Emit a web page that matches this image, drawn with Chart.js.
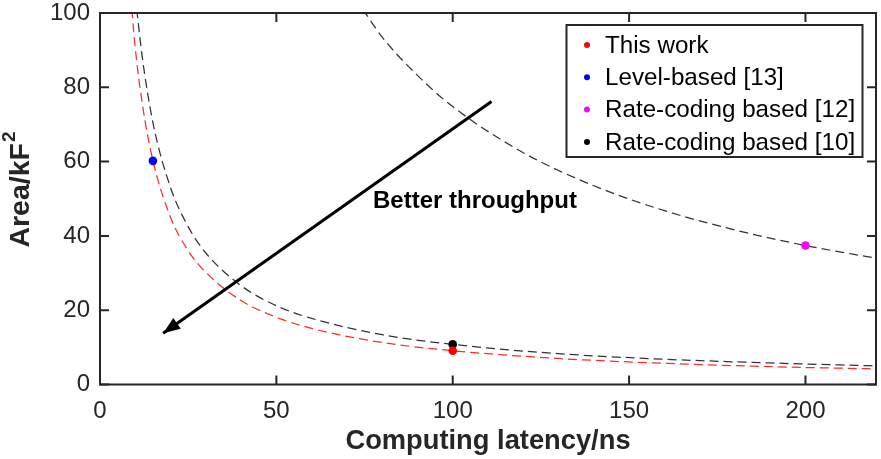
<!DOCTYPE html>
<html lang="en">
  <head>
    <meta charset="UTF-8" />
    <title>Area vs computing latency</title>
    <script src="https://cdn.jsdelivr.net/npm/chart.js"></script>
    <style>
      html, body { margin: 0; padding: 0; background: #fff; }
      #wrap { width: 881px; height: 459px; position: relative; }
    </style>
  </head>
  <body>
    <div id="wrap"><canvas id="areaChart"></canvas></div>
    <script>
      // values
      const xTicks = [0, 50, 100, 150, 200];
      const yTicks = [0, 20, 40, 60, 80, 100];

      // dashed iso-throughput curves
      const redCurveX = [9, 10, 12, 15, 20, 25, 30, 40, 50, 60, 80, 100, 130, 160, 190, 220];
      const redCurveY = [101, 90.5, 75.5, 60.3, 45, 36, 30.2, 22.6, 18.1, 15.1, 11.3, 9.1, 7, 5.7, 4.8, 4.2];
      const lowBlackX = [10.4, 12, 15, 20, 25, 30, 40, 50, 60, 80, 100, 130, 160, 190, 220];
      const lowBlackY = [101, 88, 70.5, 53, 42.5, 35.4, 26.6, 21.2, 17.8, 13.4, 10.8, 8.3, 6.8, 5.8, 5.0];
      const highBlackX = [74.5, 80, 90, 100, 120, 140, 160, 180, 200, 220];
      const highBlackY = [101, 93.5, 83.2, 74.8, 62.4, 53.5, 46.8, 41.6, 37.4, 34];

      // design points
      const designNames = ["This work", "Level-based [13]", "Rate-coding based [12]", "Rate-coding based [10]"];
      const designLatency = [100, 15, 200, 100];
      const designArea = [9.1, 60.2, 37.4, 10.8];
      const designColors = ["#ff0000", "#0000ff", "#ff00ff", "#000000"];

      // arrow "Better throughput"
      const arrowX = [111, 17.9];
      const arrowY = [76.2, 13.8];
      const noteText = "Better throughput";
      const notePos = [106.3, 49.4];

      const FONT = '"Liberation Sans", Arial, Helvetica, sans-serif';
      const AXIS = "#262626";

      function toPoints(xs, ys) {
        return xs.map((x, i) => ({ x: x, y: ys[i] }));
      }

      function curve(xs, ys, color) {
        return {
          label: "",
          data: toPoints(xs, ys),
          showLine: true,
          borderColor: color,
          borderWidth: 1.25,
          borderDash: [9, 5],
          pointRadius: 0,
          cubicInterpolationMode: "monotone",
          fill: false,
        };
      }

      const pointSets = designNames.map((name, i) => ({
        label: name,
        data: [{ x: designLatency[i], y: designArea[i] }],
        backgroundColor: designColors[i],
        borderColor: designColors[i],
        pointRadius: 4.3,
        pointBorderWidth: 0,
        showLine: false,
      }));

      // first dataset is drawn on top, so red comes before black
      const datasets = [
        pointSets[0],
        pointSets[3],
        pointSets[1],
        pointSets[2],
        {
          label: "",
          data: toPoints(arrowX, arrowY),
          showLine: true,
          borderColor: "#000",
          borderWidth: 3,
          pointRadius: 0,
        },
        curve(redCurveX, redCurveY, "#ff2a2a"),
        curve(lowBlackX, lowBlackY, "#333333"),
        curve(highBlackX, highBlackY, "#333333"),
      ];

      const decorPlugin = {
        id: "decor",
        afterDatasetsDraw(chart) {
          const ctx = chart.ctx;
          const xs = chart.scales.x;
          const ys = chart.scales.y;
          const a = chart.chartArea;

          // arrow head
          const x0 = xs.getPixelForValue(arrowX[0]);
          const y0 = ys.getPixelForValue(arrowY[0]);
          const x1 = xs.getPixelForValue(arrowX[1]);
          const y1 = ys.getPixelForValue(arrowY[1]);
          const ang = Math.atan2(y1 - y0, x1 - x0);
          const len = 17;
          const half = 6.5;
          ctx.save();
          ctx.fillStyle = "#000";
          ctx.beginPath();
          ctx.moveTo(x1, y1);
          ctx.lineTo(x1 - len * Math.cos(ang) - half * Math.sin(ang), y1 - len * Math.sin(ang) + half * Math.cos(ang));
          ctx.lineTo(x1 - len * Math.cos(ang) + half * Math.sin(ang), y1 - len * Math.sin(ang) - half * Math.cos(ang));
          ctx.closePath();
          ctx.fill();

          // annotation text
          ctx.font = "bold 24px " + FONT;
          ctx.textAlign = "center";
          ctx.textBaseline = "middle";
          ctx.fillText(noteText, xs.getPixelForValue(notePos[0]), ys.getPixelForValue(notePos[1]));

          // axes box with inward ticks
          ctx.strokeStyle = AXIS;
          ctx.lineWidth = 2;
          ctx.strokeRect(a.left, a.top, a.right - a.left, a.bottom - a.top);
          ctx.beginPath();
          const tl = 9;
          xTicks.forEach((v) => {
            const px = xs.getPixelForValue(v);
            ctx.moveTo(px, a.bottom);
            ctx.lineTo(px, a.bottom - tl);
            ctx.moveTo(px, a.top);
            ctx.lineTo(px, a.top + tl);
          });
          yTicks.forEach((v) => {
            const py = ys.getPixelForValue(v);
            ctx.moveTo(a.left, py);
            ctx.lineTo(a.left + tl, py);
            ctx.moveTo(a.right, py);
            ctx.lineTo(a.right - tl, py);
          });
          ctx.stroke();

          // legend
          const lx = 566.5, ly = 25, lw = 296, lh = 132;
          ctx.fillStyle = "#fff";
          ctx.fillRect(lx, ly, lw, lh);
          ctx.strokeRect(lx, ly, lw, lh);
          ctx.font = "24.2px " + FONT;
          ctx.textAlign = "left";
          designNames.forEach((name, i) => {
            const cy = ly + 20 + i * 32.3;
            ctx.fillStyle = designColors[i];
            ctx.beginPath();
            ctx.arc(lx + 20.5, cy, 3, 0, Math.PI * 2);
            ctx.fill();
            ctx.fillStyle = "#000";
            ctx.fillText(name, lx + 38.5, cy + 1);
          });

          // axis titles
          ctx.fillStyle = AXIS;
          ctx.font = "bold 27.3px " + FONT;
          ctx.textAlign = "center";
          ctx.fillText("Computing latency/ns", (a.left + a.right) / 2, 441);

          ctx.translate(21, 190);
          ctx.rotate(-Math.PI / 2);
          const main = "Area/kF";
          ctx.font = "bold 28.5px " + FONT;
          const mainW = ctx.measureText(main).width;
          ctx.font = "bold 19px " + FONT;
          const supW = ctx.measureText("2").width;
          const start = -(mainW + supW) / 2;
          ctx.font = "bold 28.5px " + FONT;
          ctx.textAlign = "left";
          ctx.fillText(main, start, 0);
          ctx.font = "bold 19px " + FONT;
          ctx.fillText("2", start + mainW + 1, -11);
          ctx.restore();
        },
      };

      new Chart(document.getElementById("areaChart"), {
        type: "scatter",
        data: { datasets: datasets },
        options: {
          responsive: true,
          maintainAspectRatio: false,
          animation: false,
          layout: { padding: { left: 0, right: 5, top: 13, bottom: 0 } },
          plugins: {
            legend: { display: false },
            tooltip: { enabled: false },
          },
          scales: {
            x: {
              type: "linear",
              min: 0,
              max: 220,
              afterBuildTicks: (s) => { s.ticks = xTicks.map((v) => ({ value: v })); },
              afterFit: (s) => {
                s.height = 74.5;
                s.paddingLeft = 0;
                s.paddingRight = 0;
              },
              ticks: { color: AXIS, font: { size: 24, family: FONT }, padding: 12, maxRotation: 0 },
              grid: { display: false, drawTicks: false },
              border: { display: false },
            },
            y: {
              min: 0,
              max: 100,
              afterBuildTicks: (s) => { s.ticks = yTicks.map((v) => ({ value: v })); },
              afterFit: (s) => {
                s.width = 100;
                s.paddingTop = 0;
                s.paddingBottom = 0;
              },
              ticks: { color: AXIS, font: { size: 24, family: FONT }, padding: 10 },
              grid: { display: false, drawTicks: false },
              border: { display: false },
            },
          },
        },
        plugins: [decorPlugin],
      });
    </script>
  </body>
</html>
